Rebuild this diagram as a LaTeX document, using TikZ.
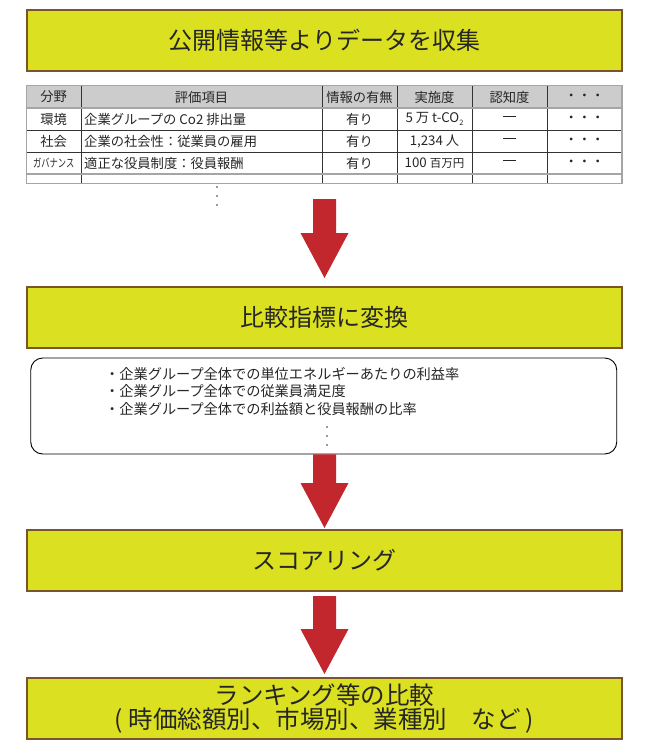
\documentclass[tikz,border=0pt]{standalone}
\usepackage{fontspec}
\setmainfont{Noto Sans CJK JP}
\usetikzlibrary{calc}
\definecolor{boxfill}{RGB}{219,224,32}
\definecolor{boxline}{RGB}{122,84,42}
\definecolor{arrowred}{RGB}{193,39,45}
\definecolor{tgray}{RGB}{165,165,165}
\definecolor{hgray}{RGB}{204,204,204}
\newcommand{\subtwo}{\raisebox{-0.35ex}{\fontsize{7.5}{8}\selectfont 2}}
\tikzset{
  stepbox/.style={draw=boxline, line width=2pt, fill=boxfill, minimum width=595pt, minimum height=61pt, inner sep=0pt},
  bigtext/.style={font=\fontsize{24}{24}\selectfont, text=black!85},
  celltext/.style={font=\fontsize{13.3}{14}\selectfont, inner sep=0pt, text=black!85},
  listtext/.style={font=\fontsize{14.2}{15}\selectfont, inner sep=0pt, anchor=west, text=black!85},
  grayline/.style={draw=tgray, line width=1.6pt},
  darkline/.style={draw=black!80, line width=0.7pt},
  roundbox/.style={draw=black, line width=0.9pt, rounded corners=12pt, minimum width=586pt, minimum height=96pt, inner sep=0pt},
  smalldot/.style={fill=black!80, circle, inner sep=0pt, minimum size=1.8pt},
}
\newcommand{\blockarrow}[2]{%
  \fill[arrowred] ($(#1)+(-11.5,0)$) -- ($(#1)+(11.5,0)$) -- ($(#2)+(11.5,-45)$) -- ($(#2)+(24,-45)$) -- (#2) -- ($(#2)+(-24,-45)$) -- ($(#2)+(-11.5,-45)$) -- cycle;}
\newcommand{\tdash}{\rule[0.33em]{13pt}{1pt}}
\begin{document}
\begin{tikzpicture}[x=1pt,y=-1pt]
\useasboundingbox (0,0) rectangle (650,750);
% box 1
\node[stepbox, bigtext] (b1) at (324.5,40.5) {公開情報等よりデータを収集};
% table
\fill[hgray] (26.5,85.5) rectangle (622,108);
\foreach \yy in {130,152} \draw[darkline] (26.5,\yy) -- (622,\yy);
\foreach \xx in {81,322,397,472,547} \draw[darkline] (\xx,85.5) -- (\xx,183.5);
\foreach \yy in {108,174,183.5} \draw[grayline] (26.5,\yy) -- (622,\yy);
\draw[grayline] (26.5,183.5) -- (26.5,85.5) -- (622,85.5) -- (622,183.5);
% header
\node[celltext] (h1) at (53.75,97) {分野};
\node[celltext] (h2) at (201.5,97) {評価項目};
\node[celltext] (h3) at (359.5,97) {情報の有無};
\node[celltext] (h4) at (434.5,97) {実施度};
\node[celltext] (h5) at (509.5,97) {認知度};
\node[celltext] (h6) at (584.5,97) {・・・};
% row 1
\node[celltext] (r1c1) at (53.75,119) {環境};
\node[celltext, anchor=west] (r1c2) at (84,119) {企業グループの Co2 排出量};
\node[celltext] (r1c3) at (359.5,119) {有り};
\node[celltext] (r1c4) at (434.5,119) {5 万 t-CO\subtwo};
\node[celltext] (r1c5) at (509.5,119) {\tdash};
\node[celltext] (r1c6) at (584.5,119) {・・・};
% row 2
\node[celltext] (r2c1) at (53.75,141) {社会};
\node[celltext, anchor=west] (r2c2) at (84,141) {企業の社会性：従業員の雇用};
\node[celltext] (r2c3) at (359.5,141) {有り};
\node[celltext] (r2c4) at (434.5,141) {1,234 人};
\node[celltext] (r2c5) at (509.5,141) {\tdash};
\node[celltext] (r2c6) at (584.5,141) {・・・};
% row 3
\node[celltext, font=\fontsize{11.5}{12}\selectfont] (r3c1) at (53.75,163) {\scalebox{0.72}[1]{ガバナンス}};
\node[celltext, anchor=west] (r3c2) at (84,163) {適正な役員制度：役員報酬};
\node[celltext] (r3c3) at (359.5,163) {有り};
\node[celltext] (r3c4) at (434.5,163) {100 {\fontsize{11.5}{12}\selectfont 百万円}};
\node[celltext] (r3c5) at (509.5,163) {\tdash};
\node[celltext] (r3c6) at (584.5,163) {・・・};
% dots under table
\foreach \yy in {187,196,205} \node[smalldot] at (217,\yy) {};
% box 2 and arrow 1
\node[stepbox, bigtext] (b2) at (324.5,317) {比較指標に変換};
\coordinate (a1s) at (324.5,199);
\coordinate (a1e) at (324.5,278);
\blockarrow{a1s}{a1e}
% rounded box
\node[roundbox] (rb) at (323.75,406) {};
\node[listtext] (l1) at (105,374) {・企業グループ全体での単位エネルギーあたりの利益率};
\node[listtext] (l2) at (105,391) {・企業グループ全体での従業員満足度};
\node[listtext] (l3) at (105,409) {・企業グループ全体での利益額と役員報酬の比率};
\foreach \yy in {427,436,445} \node[smalldot] at (327,\yy) {};
% box 3 and arrow 2
\node[stepbox, bigtext] (b3) at (324.5,560.5) {スコアリング};
\coordinate (a2s) at (rb.south -| a1s);
\coordinate (a2e) at (324.5,528);
\blockarrow{a2s}{a2e}
% box 4 and arrow 3
\node[stepbox, bigtext, align=center, font=\fontsize{24.5}{24}\selectfont] (b4) at (324.5,708.5) {ランキング等の比較\\( 時価総額別、市場別、業種別　など )};
\coordinate (a3s) at (324.5,596);
\coordinate (a3e) at (324.5,674);
\blockarrow{a3s}{a3e}
\end{tikzpicture}
\end{document}
